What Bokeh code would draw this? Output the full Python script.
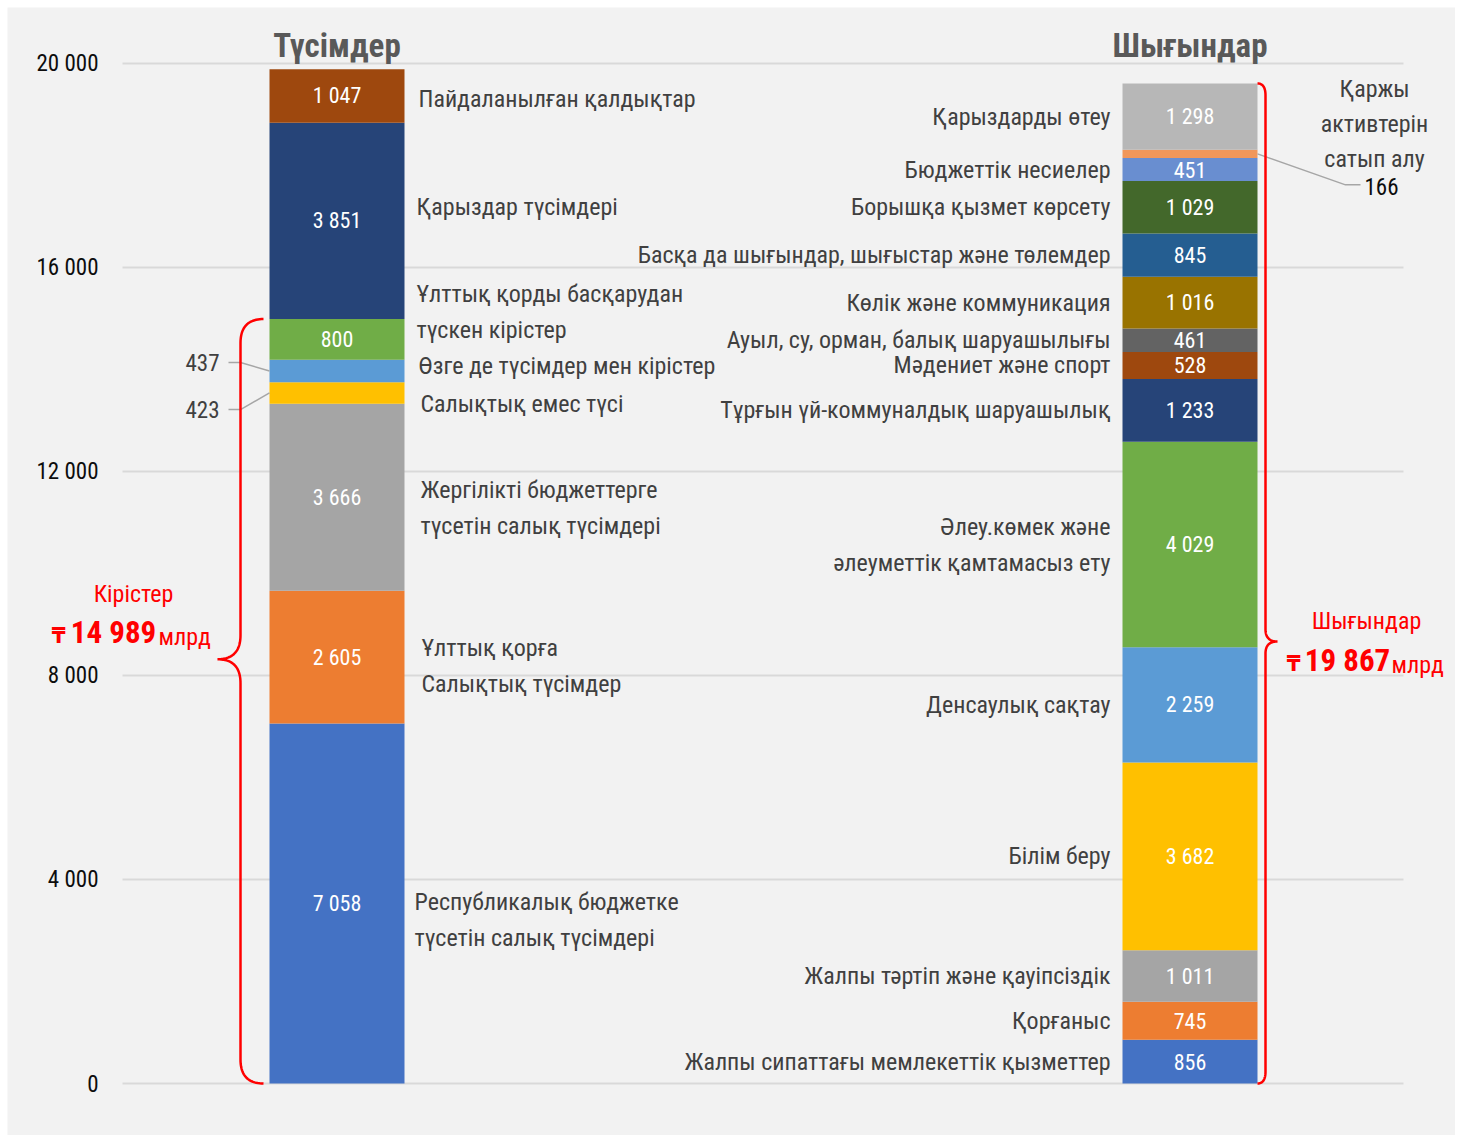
import numpy as np
from bokeh.plotting import figure
from bokeh.models import Range1d, Spacer
from bokeh.layouts import column, row
from bokeh.core.properties import value
from bokeh.embed import file_html
from bokeh.resources import INLINE

# ---------------- data ----------------
titles = ["Түсімдер", "Шығындар"]

income_categories = [
    "Республикалық бюджетке\nтүсетін салық түсімдері",
    "Ұлттық қорға\nСалықтық түсімдер",
    "Жергілікті бюджеттерге\nтүсетін салық түсімдері",
    "Салықтық емес түсі",
    "Өзге де түсімдер мен кірістер",
    "Ұлттық қорды басқарудан\nтүскен кірістер",
    "Қарыздар түсімдері",
    "Пайдаланылған қалдықтар",
]
income_values = [7058, 2605, 3666, 423, 437, 800, 3851, 1047]
income_labels = ["7 058", "2 605", "3 666", "423", "437", "800", "3 851", "1 047"]

spend_categories = [
    "Жалпы сипаттағы мемлекеттік қызметтер",
    "Қорғаныс",
    "Жалпы тәртіп және қауіпсіздік",
    "Білім беру",
    "Денсаулық сақтау",
    "Әлеу.көмек және\nәлеуметтік қамтамасыз ету",
    "Тұрғын үй-коммуналдық шаруашылық",
    "Мәдениет және спорт",
    "Ауыл, су, орман, балық шаруашылығы",
    "Көлік және коммуникация",
    "Басқа да шығындар, шығыстар және төлемдер",
    "Борышқа қызмет көрсету",
    "Бюджеттік несиелер",
    "Қаржы\nактивтерін\nсатып алу",
    "Қарыздарды өтеу",
]
spend_values = [856, 745, 1011, 3682, 2259, 4029, 1233, 528, 461, 1016, 845, 1029, 451, 166, 1298]
spend_labels = ["856", "745", "1 011", "3 682", "2 259", "4 029", "1 233", "528", "461",
                "1 016", "845", "1 029", "451", "166", "1 298"]

income_total_name = "Кірістер"
income_total_text = "14 989"
spend_total_name = "Шығындар"
spend_total_text = "19 867"
unit_text = "млрд"
currency = "₸"

y_ticks = [0, 4000, 8000, 12000, 16000, 20000]
y_tick_labels = ["0", "4 000", "8 000", "12 000", "16 000", "20 000"]

# ---------------- styling / layout ----------------
income_colors = ["#4472c4", "#ed7d31", "#a5a5a5", "#ffc000", "#5b9bd5", "#70ad47", "#264478", "#9e480e"]
spend_colors = ["#4472c4", "#ed7d31", "#a5a5a5", "#ffc000", "#5b9bd5", "#70ad47", "#264478", "#9e480e",
                "#636363", "#997300", "#255e91", "#43682b", "#698ed0", "#f1975a", "#b7b7b7"]

FONT = value("'Roboto Condensed', 'DejaVu Sans Condensed', 'Liberation Sans Narrow', Roboto, sans-serif")
LABEL_COLOR = "#404040"
RED = "#ff0000"
BG = "#f2f2f2"

PX = 0.051          # pixels per unit
ZERO_PY = 1083      # page y of value 0
def v(py):          # page y -> value
    return (ZERO_PY - py) / PX
def py(val):        # value -> page y
    return ZERO_PY - val * PX

BAR_X = [336.5, 1189.5]
BAR_W = 135

OFF = 7                      # white page border around the grey panel
W, H = 1448, 1128
GL, GR = 122, 1403           # gridline extent (page x)
p = figure(width=W, height=H,
           x_range=Range1d(OFF, OFF + W), y_range=Range1d(v(OFF + H), v(OFF)),
           output_backend="svg", toolbar_location=None,
           x_axis_location=None, y_axis_location=None,
           min_border=0, background_fill_color=BG, border_fill_color=BG, outline_line_color=None)
p.grid.visible = False

# value gridlines and tick labels
p.segment(x0=[GL] * len(y_ticks), x1=[GR] * len(y_ticks), y0=y_ticks, y1=y_ticks,
          line_color="#d9d9d9", line_width=2)
p.text(x=[98] * len(y_ticks), y=y_ticks, text=y_tick_labels, text_font=FONT, text_font_size="23px",
       text_color="#0d0d0d", text_align="right", text_baseline="middle")

def stack(vals):
    tops = np.cumsum(vals)
    bots = tops - np.array(vals)
    return bots, tops, (bots + tops) / 2

ib, it, ic = stack(income_values)
sb, st, sc = stack(spend_values)

p.vbar(x=[BAR_X[0]] * len(income_values), bottom=ib, top=it, width=BAR_W,
       fill_color=income_colors, line_color=None)
p.vbar(x=[BAR_X[1]] * len(spend_values), bottom=sb, top=st, width=BAR_W,
       fill_color=spend_colors, line_color=None)

def txt(x, y, text, size="24px", color=LABEL_COLOR, align="center", style="normal"):
    p.text(x=x, y=y, text=text, text_font=FONT, text_font_size=size, text_color=color,
           text_align=align, text_baseline="middle", text_font_style=style)

# titles
txt(BAR_X, [v(45)] * 2, titles, size="33px", color="#595959", style="bold")

# values inside bars
income_outside = [3, 4]
spend_outside = [13]
xs, ys, ts = [], [], []
for i, lab in enumerate(income_labels):
    if i not in income_outside:
        xs.append(BAR_X[0]); ys.append(ic[i]); ts.append(lab)
for i, lab in enumerate(spend_labels):
    if i not in spend_outside:
        xs.append(BAR_X[1]); ys.append(sc[i]); ts.append(lab)
txt(xs, ys, ts, size="22px", color="white")

# outside values for small income segments (437 up, 423 down)
out_dy = {4: -8.5, 3: 16.6}
lx, ly, lt = [], [], []
seg_xs, seg_ys = [], []
for i in income_outside:
    y_lab = py(ic[i]) + out_dy[i]
    lx.append(219); ly.append(v(y_lab)); lt.append(income_labels[i])
    seg_xs.append([228, 240, BAR_X[0] - BAR_W / 2])
    seg_ys.append([v(y_lab), v(y_lab), ic[i]])
p.multi_line(xs=seg_xs, ys=seg_ys, line_color="#a6a6a6", line_width=1.5)
txt(lx, ly, lt, size="23px", align="right")

# income category labels (left aligned, right of the bar)
inc_lab_x = [414, 421, 420, 420, 418, 416, 416, 418]
inc_lab_dy = [16, 9, 11, 11, -5, -27.5, -14, 3]
LINE = 36
cx, cy, ct = [], [], []
for i, name in enumerate(income_categories):
    lines = name.split("\n")
    c = py(ic[i]) + inc_lab_dy[i]
    for k, ln in enumerate(lines):
        cx.append(inc_lab_x[i]); cy.append(v(c + (k - (len(lines) - 1) / 2) * LINE)); ct.append(ln)
txt(cx, cy, ct, align="left")

# spending category labels (right aligned, left of the bar)
cx, cy, ct = [], [], []
for i, name in enumerate(spend_categories):
    if i in spend_outside:
        continue
    lines = name.split("\n")
    c = py(sc[i])
    for k, ln in enumerate(lines):
        cx.append(1110); cy.append(v(c + (k - (len(lines) - 1) / 2) * LINE)); ct.append(ln)
txt(cx, cy, ct, align="right")

# callout for the small spending segment
j = spend_outside[0]
c = py(sc[j])
call_lines = spend_categories[j].split("\n")
txt([1374] * len(call_lines),
    [v(c - 30 + (k - (len(call_lines) - 1) / 2) * 35) for k in range(len(call_lines))],
    call_lines)
p.line(x=[BAR_X[1] + BAR_W / 2, 1345, 1360], y=[sc[j], v(c + 31), v(c + 31)],
       line_color="#a6a6a6", line_width=1.5)
txt([1364], [v(c + 33)], [spend_labels[j]], size="23px", color="#0d0d0d", align="left")

# braces
def brace(x_end, x_spine, x_tip, py_top, py_bot, py_tip, r, n=24):
    t = np.linspace(0, 1, n)[:, None]
    def quad(a, b, c2):
        a, b, c2 = map(np.array, (a, b, c2))
        return (1 - t) ** 2 * a + 2 * (1 - t) * t * b + t ** 2 * c2
    parts = [
        quad((x_end, py_top), (x_spine, py_top), (x_spine, py_top + r)),
        quad((x_spine, py_tip - r), (x_spine, py_tip), (x_tip, py_tip)),
        quad((x_tip, py_tip), (x_spine, py_tip), (x_spine, py_tip + r)),
        quad((x_spine, py_bot - r), (x_spine, py_bot), (x_end, py_bot)),
    ]
    pts = np.vstack(parts)
    return pts[:, 0], np.array([v(q) for q in pts[:, 1]])

inc_sum = float(np.sum(income_values[:6]))
bx, by = brace(263, 240, 217, py(inc_sum), py(0), py(0) - 0.555 * (py(0) - py(inc_sum)), 24)
p.line(bx, by, line_color=RED, line_width=2.5)
spend_top = float(st[-1])
bx, by = brace(1257, 1265, 1277, py(spend_top), py(0), py(0) - 0.442 * (py(0) - py(spend_top)), 12)
p.line(bx, by, line_color=RED, line_width=2.5)

# totals
txt([133], [v(593)], [income_total_name], color=RED)
txt([65], [v(635)], [currency], size="22px", color=RED, align="right", style="bold")
txt([113], [v(632)], [income_total_text], size="31px", color=RED, style="bold")
txt([158], [v(636)], [unit_text], color=RED, align="left")

txt([1366], [v(620)], [spend_total_name], color=RED)
txt([1300], [v(663)], [currency], size="22px", color=RED, align="right", style="bold")
txt([1347], [v(660)], [spend_total_text], size="31px", color=RED, style="bold")
txt([1391], [v(664)], [unit_text], color=RED, align="left")

layout = column(Spacer(height=OFF), row(Spacer(width=OFF), p))
open("out.html", "w").write(file_html(layout, INLINE))
